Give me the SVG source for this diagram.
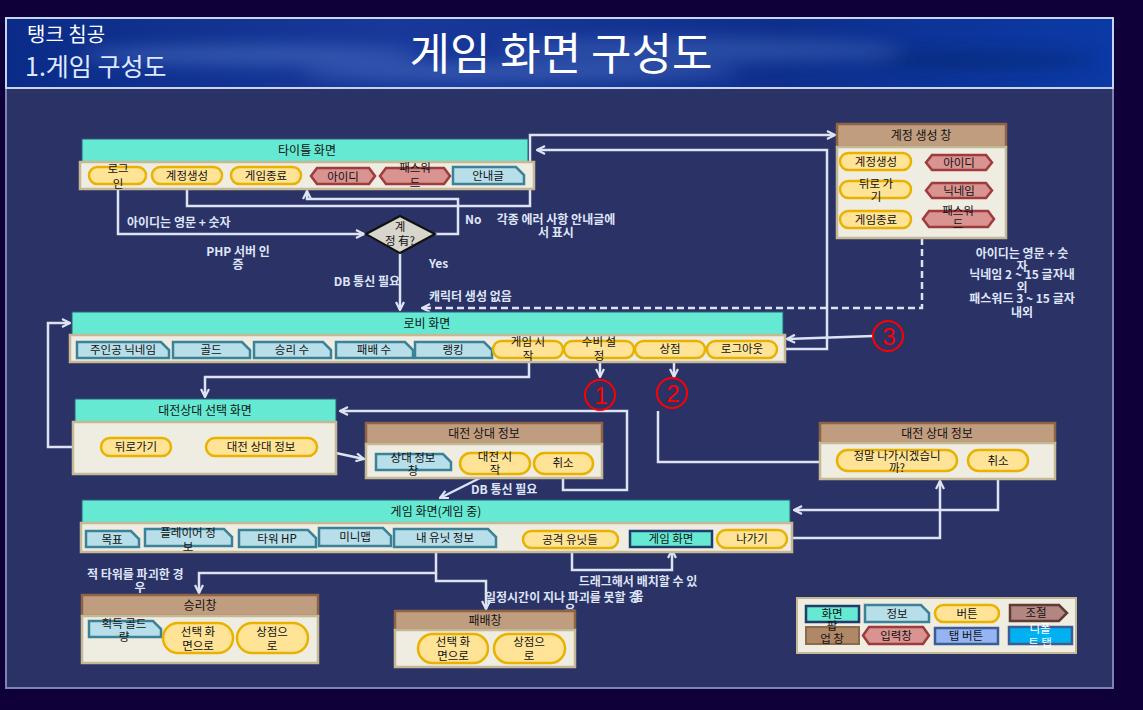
<svg xmlns="http://www.w3.org/2000/svg" width="1143" height="710" viewBox="0 0 1143 710">
<defs>
<linearGradient id="banner" x1="0" y1="0" x2="1" y2="0">
<stop offset="0" stop-color="#0a2c88"/><stop offset="0.35" stop-color="#19399a"/><stop offset="0.7" stop-color="#0e2f8c"/><stop offset="1" stop-color="#0b3aa6"/>
</linearGradient>
<filter id="blur" x="-50%" y="-50%" width="200%" height="200%"><feGaussianBlur stdDeviation="8"/></filter>
<marker id="arr" viewBox="0 0 10 10" refX="9" refY="5" markerWidth="10" markerHeight="10" markerUnits="userSpaceOnUse" orient="auto">
<path d="M1,1 L9,5 L1,9" fill="none" stroke="#dde3f3" stroke-width="2.2"/>
</marker>
<style>
text{font-family:"Noto Sans CJK KR","Noto Sans",sans-serif;}
.t{font-size:11.5px;fill:#111;text-anchor:middle;}
.h{font-size:12px;fill:#111;text-anchor:middle;}
.lb{font-size:12px;fill:#dfe5f7;font-weight:bold;}
.lbm{font-size:12px;fill:#dfe5f7;font-weight:bold;text-anchor:middle;}
.hd{fill:#65e9d2;stroke:#2a5f7a;stroke-width:1;}
.bd{fill:#efece2;stroke:#c4b994;stroke-width:2.5;}
.ph{fill:#c19d80;stroke:#8d6446;stroke-width:2.5;}
.pill{fill:#ffe497;stroke:#e9b100;stroke-width:2.5;}
.inp{fill:#d99391;stroke:#9e3b3d;stroke-width:2.5;}
.info{fill:#b8dfe9;stroke:#3b8299;stroke-width:2.5;}
.scr{fill:#65e9d2;stroke:#213b6b;stroke-width:2.5;}
.c{fill:none;stroke:#dde3f3;stroke-width:2.5;}
.ca{fill:none;stroke:#dde3f3;stroke-width:2.5;marker-end:url(#arr);}
.red{fill:none;stroke:#ff0000;stroke-width:2;}
.rn{font-family:"Liberation Sans",sans-serif;font-size:24px;fill:#ff0000;text-anchor:middle;}
</style>
</defs>
<rect x="0" y="0" width="1143" height="710" fill="#10003a"/>
<rect x="6" y="88" width="1107" height="600" fill="#2a3266" stroke="#7d84b3" stroke-width="2"/>
<g id="banner-g">
<rect x="6" y="18" width="1107" height="70" fill="url(#banner)" stroke="#c8d5ee" stroke-width="2"/>
<g filter="url(#blur)" opacity="0.45">
<ellipse cx="250" cy="55" rx="170" ry="10" fill="#5a7fcf"/>
<ellipse cx="700" cy="50" rx="200" ry="12" fill="#4b6fc0"/>
<ellipse cx="980" cy="60" rx="120" ry="8" fill="#06205e"/>
<ellipse cx="520" cy="72" rx="220" ry="7" fill="#6a8ed8"/>
</g>
<text x="27" y="42" font-size="20" fill="#ffffff">탱크 침공</text>
<text x="25" y="76" font-size="25" fill="#dfe8ff">1.게임 구성도</text>
<text x="561" y="70" font-size="44" fill="#ffffff" text-anchor="middle">게임 화면 구성도</text>
</g>

<g id="connectors">
<path class="ca" d="M118 185 V234 H364"/>
<path class="ca" d="M187 185 V206 H530 V135 H835"/>
<path class="ca" d="M435 234 H458 V199 H307 V191"/>
<path class="ca" d="M777 349 H827 V150 H537"/>
<path class="ca" d="M400 253 V310"/>
<path class="ca" d="M922 238 V308 H422" stroke-dasharray="7 4"/>
<path class="ca" d="M873 336 L787 339"/>
<path class="ca" d="M600 358 V377"/>
<path class="ca" d="M674 358 V377"/>
<path class="ca" d="M529 358 V377 H205 V397"/>
<path class="ca" d="M101 447 H48 V323 H70"/>
<path class="ca" d="M317 449 L364 459"/>
<path class="ca" d="M563 474 V490 H627 V411 H340"/>
<path class="c" d="M820 462 H658 V411"/>
<path class="ca" d="M482 477 L440 498"/>
<path class="ca" d="M787 538 H940 V481"/>
<path class="ca" d="M998 471 V510 H794"/>
<path class="ca" d="M572 548 V570 H672 V550"/>
<path class="ca" d="M436 552 V573 H199 V593"/>
<path class="ca" d="M436 573 V581 H486 V609"/>
<text class="lb" x="127" y="227">아이디는 영문 + 숫자</text>
<text class="lb" x="465" y="224">No</text>
<text class="lbm" x="556" y="224">각종 에러 사항 안내글에</text>
<text class="lbm" x="556" y="237">서 표시</text>
<text class="lbm" x="238" y="256">PHP 서버 인</text>
<text class="lbm" x="238" y="269">증</text>
<text class="lb" x="400" y="286" text-anchor="end">DB 통신 필요</text>
<text class="lb" x="429" y="268">Yes</text>
<text class="lb" x="429" y="301">캐릭터 생성 없음</text>
<text class="lbm" x="1022" y="258">아이디는 영문 + 숫</text>
<text class="lbm" x="1022" y="271">자</text>
<text class="lbm" x="1022" y="279">닉네임 2 ~ 15 글자내</text>
<text class="lbm" x="1022" y="292">외</text>
<text class="lbm" x="1022" y="303">패스워드 3 ~ 15 글자</text>
<text class="lbm" x="1022" y="317">내외</text>
<text class="lb" x="471" y="494">DB 통신 필요</text>
<text class="lbm" x="638" y="586">드래그해서 배치할 수 있</text>
<text class="lbm" x="638" y="601">음</text>
<text class="lb" x="485" y="602">일정시간이 지나 파괴를 못할 경</text>
<text class="lbm" x="570" y="614">우</text>
<text class="lb" x="87" y="579">적 타워를 파괴한 경</text>
<text class="lbm" x="140" y="592">우</text>
</g>

<g id="title-screen">
<rect class="hd" x="82" y="139" width="446" height="23"/>
<text class="h" x="307" y="155">타이틀 화면</text>
<rect class="bd" x="80" y="162" width="454" height="27"/>
<rect class="pill" x="89" y="167" width="57" height="17" rx="8.5"/>
<text class="t" x="118" y="173">로그</text><text class="t" x="118" y="188">인</text>
<rect class="pill" x="152" y="167" width="70" height="17" rx="8.5"/>
<text class="t" x="187" y="180">계정생성</text>
<rect class="pill" x="231" y="167" width="70" height="17" rx="8.5"/>
<text class="t" x="266" y="180">게임종료</text>
<polygon class="inp" points="311,176 317,168 369,168 375,176 369,184 317,184"/>
<text class="t" x="343" y="181">아이디</text>
<polygon class="inp" points="380,176 386,168 444,168 450,176 444,184 386,184"/>
<text class="t" x="415" y="172">패스워</text><text class="t" x="415" y="187">드</text>
<polygon class="info" points="453,167 516,167 524,175 524,184 453,184"/>
<text class="t" x="488" y="180">안내글</text>
</g>

<g id="account-check">
<polygon points="366,234 400,216 435,234 400,253" fill="#d8d5cc" stroke="#111" stroke-width="2"/>
<text class="t" x="400" y="231">계</text>
<text class="t" x="400" y="245">정 有?</text>
</g>

<g id="account-window">
<rect class="ph" x="837" y="124" width="169" height="23"/>
<text class="h" x="921" y="140">계정 생성 창</text>
<rect class="bd" x="837" y="147" width="169" height="91"/>
<rect class="pill" x="840" y="153" width="71" height="17" rx="8.5"/>
<text class="t" x="876" y="166">계정생성</text>
<rect class="pill" x="840" y="181" width="71" height="17" rx="8.5"/>
<text class="t" x="876" y="188">뒤로 가</text><text class="t" x="876" y="201">기</text>
<rect class="pill" x="840" y="211" width="71" height="17" rx="8.5"/>
<text class="t" x="876" y="224">게임종료</text>
<polygon class="inp" points="926,162.5 932,155 986,155 992,162.5 986,170 932,170"/>
<text class="t" x="959" y="167">아이디</text>
<polygon class="inp" points="926,190.5 932,183 986,183 992,190.5 986,198 932,198"/>
<text class="t" x="959" y="195">닉네임</text>
<polygon class="inp" points="923,219 929,211 988,211 994,219 988,227 929,227"/>
<text class="t" x="958" y="215">패스워</text><text class="t" x="958" y="228">드</text>
</g>

<g id="lobby">
<rect class="hd" x="72" y="312" width="711" height="23"/>
<text class="h" x="427" y="328">로비 화면</text>
<rect class="bd" x="70" y="335" width="715" height="27"/>
<polygon class="info" points="77,342 161,342 169,350 169,358 77,358"/>
<text class="t" x="123" y="354">주인공 닉네임</text>
<polygon class="info" points="173,342 242,342 250,350 250,358 173,358"/>
<text class="t" x="211" y="354">골드</text>
<polygon class="info" points="254,342 323,342 331,350 331,358 254,358"/>
<text class="t" x="292" y="354">승리 수</text>
<polygon class="info" points="336,342 405,342 413,350 413,358 336,358"/>
<text class="t" x="374" y="354">패배 수</text>
<polygon class="info" points="415,342 484,342 492,350 492,358 415,358"/>
<text class="t" x="453" y="354">랭킹</text>
<rect class="pill" x="493" y="341" width="70" height="17" rx="8.5"/>
<text class="t" x="528" y="346">게임 시</text><text class="t" x="528" y="360">작</text>
<rect class="pill" x="564" y="341" width="70" height="17" rx="8.5"/>
<text class="t" x="599" y="346">수비 설</text><text class="t" x="599" y="360">정</text>
<rect class="pill" x="635" y="341" width="70" height="17" rx="8.5"/>
<text class="t" x="670" y="353">상점</text>
<rect class="pill" x="707" y="341" width="70" height="17" rx="8.5"/>
<text class="t" x="742" y="353">로그아웃</text>
</g>

<g id="marker-1"><circle class="red" cx="600" cy="395" r="15"/><text class="rn" x="601" y="404">1</text></g>
<g id="marker-2"><circle class="red" cx="672" cy="393" r="15"/><text class="rn" x="673" y="402">2</text></g>
<g id="marker-3"><circle class="red" cx="888" cy="336" r="15"/><text class="rn" x="889" y="345">3</text></g>

<g id="match-select">
<rect class="hd" x="75" y="399" width="261" height="23"/>
<text class="h" x="205" y="415">대전상대 선택 화면</text>
<rect class="bd" x="73" y="422" width="263" height="52"/>
<rect class="pill" x="101" y="438" width="70" height="18" rx="9"/>
<text class="t" x="136" y="451">뒤로가기</text>
<rect class="pill" x="206" y="438" width="111" height="18" rx="9"/>
<text class="t" x="261" y="451">대전 상대 정보</text>
</g>

<g id="match-info">
<rect class="ph" x="366" y="423" width="236" height="21"/>
<text class="h" x="484" y="438">대전 상대 정보</text>
<rect class="bd" x="366" y="444" width="236" height="34"/>
<polygon class="info" points="376,454 443,454 451,462 451,470 376,470"/>
<text class="t" x="413" y="462">상대 정보</text><text class="t" x="413" y="475">창</text>
<rect class="pill" x="460" y="453" width="70" height="21" rx="10.5"/>
<text class="t" x="495" y="461">대전 시</text><text class="t" x="495" y="474">작</text>
<rect class="pill" x="534" y="453" width="59" height="21" rx="10.5"/>
<text class="t" x="563" y="467">취소</text>
</g>

<g id="exit-confirm">
<rect class="ph" x="820" y="423" width="235" height="20"/>
<text class="h" x="937" y="438">대전 상대 정보</text>
<rect class="bd" x="820" y="443" width="235" height="36"/>
<rect class="pill" x="837" y="450" width="120" height="21" rx="10.5"/>
<text class="t" x="897" y="460">정말 나가시겠습니</text><text class="t" x="897" y="472">까?</text>
<rect class="pill" x="968" y="450" width="60" height="21" rx="10.5"/>
<text class="t" x="998" y="465">취소</text>
</g>

<g id="game-screen">
<rect class="hd" x="82" y="500" width="708" height="23"/>
<text class="h" x="436" y="516">게임 화면(게임 중)</text>
<rect class="bd" x="81" y="523" width="711" height="29"/>
<polygon class="info" points="86,531 131,531 139,539 139,547 86,547"/>
<text class="t" x="112" y="544">목표</text>
<polygon class="info" points="145,529 224,529 232,537 232,546 145,546"/>
<text class="t" x="188" y="537">플레이어 정</text><text class="t" x="188" y="551">보</text>
<polygon class="info" points="239,530 308,530 316,538 316,547 239,547"/>
<text class="t" x="277" y="543">타워 HP</text>
<polygon class="info" points="319,528 383,528 391,536 391,546 319,546"/>
<text class="t" x="355" y="541">미니맵</text>
<polygon class="info" points="394,529 488,529 496,537 496,547 394,547"/>
<text class="t" x="445" y="542">내 유닛 정보</text>
<rect class="pill" x="523" y="531" width="95" height="17" rx="8.5"/>
<text class="t" x="570" y="544">공격 유닛들</text>
<rect class="scr" x="630" y="531" width="82" height="16"/>
<text class="t" x="671" y="543">게임 화면</text>
<rect class="pill" x="717" y="530" width="70" height="18" rx="9"/>
<text class="t" x="752" y="543">나가기</text>
</g>

<g id="victory">
<rect class="ph" x="82" y="595" width="236" height="21"/>
<text class="h" x="200" y="610">승리창</text>
<rect class="bd" x="82" y="616" width="236" height="47"/>
<polygon class="info" points="89,621 153,621 161,629 161,637 89,637"/>
<text class="t" x="124" y="628">획득 골드</text><text class="t" x="124" y="641">량</text>
<rect class="pill" x="163" y="623" width="70" height="30" rx="15"/>
<text class="t" x="198" y="636">선택 화</text><text class="t" x="198" y="650">면으로</text>
<rect class="pill" x="237" y="623" width="71" height="30" rx="15"/>
<text class="t" x="272" y="636">상점으</text><text class="t" x="272" y="650">로</text>
</g>

<g id="defeat">
<rect class="ph" x="395" y="611" width="180" height="19"/>
<text class="h" x="485" y="625">패배창</text>
<rect class="bd" x="395" y="630" width="180" height="37"/>
<rect class="pill" x="418" y="634" width="70" height="29" rx="14.5"/>
<text class="t" x="453" y="646">선택 화</text><text class="t" x="453" y="660">면으로</text>
<rect class="pill" x="494" y="634" width="71" height="29" rx="14.5"/>
<text class="t" x="529" y="646">상점으</text><text class="t" x="529" y="660">로</text>
</g>

<g id="legend">
<rect x="797" y="598" width="279" height="55" fill="#efece2" stroke="#c4b994" stroke-width="2"/>
<rect class="scr" x="806" y="606" width="53" height="16"/>
<text class="t" x="832" y="618">화면</text>
<polygon class="info" points="865,605 921,605 929,613 929,622 865,622"/>
<text class="t" x="897" y="618">정보</text>
<rect class="pill" x="935" y="605" width="64" height="17" rx="8.5"/>
<text class="t" x="967" y="618">버튼</text>
<polygon points="1010,605 1059,605 1067,613 1059,621 1010,621" fill="#b48682" stroke="#5e3c34" stroke-width="2.5"/>
<text class="t" x="1036" y="617">조절</text>
<rect x="806" y="627" width="53" height="17" fill="#b08868" stroke="#8a6a4a" stroke-width="2"/>
<text class="t" x="832" y="630">팝</text><text class="t" x="832" y="643">업 창</text>
<polygon class="inp" points="863,635.5 869,627 923,627 929,635.5 923,644 869,644"/>
<text class="t" x="896" y="640">입력창</text>
<rect x="935" y="628" width="63" height="16" fill="#94b4f3" stroke="#3d5c93" stroke-width="2.5"/>
<text class="t" x="966" y="640">탭 버튼</text>
<rect x="1009" y="627" width="63" height="17" fill="#00b0f0" stroke="#3d5c93" stroke-width="2.5"/>
<text class="t" x="1040" y="633" style="fill:#ffffff">디폴</text><text class="t" x="1040" y="647" style="fill:#ffffff">트 탭</text>
</g>
</svg>
